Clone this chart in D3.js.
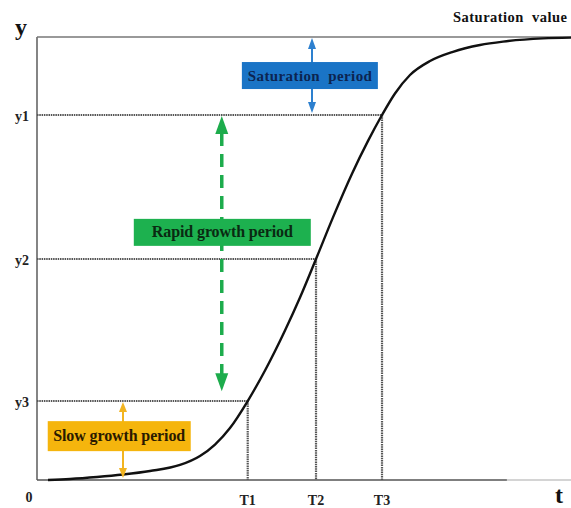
<!DOCTYPE html>
<html><head><meta charset="utf-8">
<script src="https://cdn.jsdelivr.net/npm/d3@7"></script>
<style>html,body{margin:0;padding:0;background:#fff;}svg{display:block;}</style>
</head><body>
<svg id="chart" width="571" height="508"></svg>
<script>
// ---- data ----
const curveT = [2.06, 6.18, 11.24, 16.10, 21.16, 26.78, 30.52, 33.33, 36.14, 39.46, 42.70, 46.44, 49.25, 52.25, 55.43, 58.99, 61.99, 64.61, 67.04, 69.85, 73.60, 77.90, 82.96, 87.27, 94.76, 100];
const curveY = [0, 0.23, 0.68, 1.24, 2.03, 3.39, 5.42, 8.01, 11.74, 17.83, 24.72, 33.75, 41.20, 49.89, 59.28, 69.14, 76.55, 82.39, 87.25, 91.42, 94.58, 96.66, 98.19, 98.96, 99.68, 99.86];
const timeLabels = ["T1", "T2", "T3"];
const timeValues = [39.46, 52.25, 64.61];
const levelLabels = ["y3", "y2", "y1"];
const levelValues = [17.83, 49.89, 82.39];
const saturationValue = 100;
const periodLabels = ["Slow growth period", "Rapid growth period", "Saturation  period"];

const svg = d3.select("#chart");
const x = d3.scaleLinear().domain([0, 100]).range([37, 571]);
const y = d3.scaleLinear().domain([0, 100]).range([480, 37]);
const serif = "'Liberation Serif','Times New Roman',serif";

// frame
svg.append("line").attr("x1", x(0)).attr("x2", x(0)).attr("y1", y(0)).attr("y2", y(100))
  .attr("stroke", "#666").attr("stroke-width", 1.6);
svg.append("line").attr("x1", x(0)).attr("x2", x(100)).attr("y1", y(saturationValue)).attr("y2", y(saturationValue))
  .attr("stroke", "#777").attr("stroke-width", 1.6);
svg.append("line").attr("x1", x(0)).attr("x2", x(88)).attr("y1", y(0)).attr("y2", y(0))
  .attr("stroke", "#555").attr("stroke-width", 1.6);
svg.append("line").attr("x1", x(88)).attr("x2", x(100)).attr("y1", y(0)).attr("y2", y(0))
  .attr("stroke", "#aaa").attr("stroke-width", 1.2);

// dotted reference lines
const pairs = timeValues.map((t, i) => ({t, v: levelValues[i]}));
pairs.forEach(p => {
  svg.append("line").attr("x1", x(0)).attr("x2", x(p.t)).attr("y1", y(p.v)).attr("y2", y(p.v))
    .attr("stroke", "#555").attr("stroke-width", 2.2).attr("stroke-dasharray", "1.5,0.8");
  svg.append("line").attr("x1", x(p.t)).attr("x2", x(p.t)).attr("y1", y(p.v)).attr("y2", y(0))
    .attr("stroke", "#555").attr("stroke-width", 2.2).attr("stroke-dasharray", "1.5,0.8");
});

// curve
const pts = curveT.map((t, i) => [t, curveY[i]]);
svg.append("path").datum(pts)
  .attr("d", d3.line().x(d => x(d[0])).y(d => y(d[1])).curve(d3.curveMonotoneX))
  .attr("fill", "none").attr("stroke", "#111").attr("stroke-width", 2.4);

// axis labels
svg.selectAll(".tl").data(timeLabels).enter().append("text")
  .attr("x", (d, i) => x(timeValues[i])).attr("y", 505).attr("text-anchor", "middle")
  .attr("font-family", serif).attr("font-weight", "bold").attr("font-size", 14).attr("fill", "#222").text(d => d);
svg.selectAll(".yl").data(levelLabels).enter().append("text")
  .attr("x", 29).attr("y", (d, i) => y(levelValues[i]) + 6).attr("text-anchor", "end")
  .attr("font-family", serif).attr("font-weight", "bold").attr("font-size", 14).attr("fill", "#222").text(d => d);
svg.append("text").attr("x", 29).attr("y", 502).attr("text-anchor", "middle")
  .attr("font-family", serif).attr("font-weight", "bold").attr("font-size", 14).attr("fill", "#222").text("0");
svg.append("text").attr("x", 21).attr("y", 35).attr("text-anchor", "middle")
  .attr("font-family", serif).attr("font-weight", "bold").attr("font-size", 24).attr("fill", "#111").text("y");
svg.append("text").attr("x", 559).attr("y", 503).attr("text-anchor", "middle")
  .attr("font-family", serif).attr("font-weight", "bold").attr("font-size", 24).attr("fill", "#111").text("t");
svg.append("text").attr("x", 453).attr("y", 22)
  .attr("font-family", serif).attr("font-weight", "bold").attr("font-size", 14.5).attr("fill", "#111")
  .attr("textLength", 114).attr("lengthAdjust", "spacing")
  .attr("xml:space", "preserve").text("Saturation  value");

// arrowheads
function head(g, cx, tipY, dir, w, h, color) {
  g.append("path").attr("d", `M${cx},${tipY} L${cx - w / 2},${tipY + dir * h} L${cx + w / 2},${tipY + dir * h} Z`).attr("fill", color);
}

// period annotations (in data units)
const periods = [
  {label: periodLabels[0], ax: 16.1, top: levelValues[0], bot: 0, cx: 15.4, cy: 9.9, w: 143, h: 30, tw: 132,
   fill: "#f5b50d", text: "#2a1a00", arrow: "#f2b420", lw: 2, hw: 8, hh: 10, dash: null, fs: 16},
  {label: periodLabels[1], ax: 34.6, top: levelValues[2], bot: 19.6, cx: 34.7, cy: 55.9, w: 177, h: 27, tw: 141,
   fill: "#1db14f", text: "#0a2a12", arrow: "#1dac4c", lw: 3.5, hw: 13, hh: 18, dash: "13,8", fs: 16},
  {label: periodLabels[2], ax: 51.5, top: saturationValue, bot: levelValues[2], cx: 51.1, cy: 91.3, w: 136, h: 27, tw: 124,
   fill: "#1a74c6", text: "#0c2450", arrow: "#2d80cf", lw: 2, hw: 8, hh: 11, dash: null, fs: 15}
];
periods.forEach(p => {
  const g = svg.append("g");
  const ax = x(p.ax), yt = y(p.top) + 1, yb = y(p.bot) - 2;
  g.append("line").attr("x1", ax).attr("x2", ax).attr("y1", yt + p.hh - 1).attr("y2", yb - p.hh + 1)
    .attr("stroke", p.arrow).attr("stroke-width", p.lw).attr("stroke-dasharray", p.dash);
  head(g, ax, yt, 1, p.hw, p.hh, p.arrow);
  head(g, ax, yb, -1, p.hw, p.hh, p.arrow);
  g.append("rect").attr("x", x(p.cx) - p.w / 2).attr("y", y(p.cy) - p.h / 2).attr("width", p.w).attr("height", p.h)
    .attr("fill", p.fill);
  g.append("text").attr("x", x(p.cx) - p.tw / 2).attr("y", y(p.cy) + 5)
    .attr("font-family", serif).attr("font-weight", "bold").attr("font-size", p.fs).attr("fill", p.text)
    .attr("textLength", p.tw).attr("lengthAdjust", "spacing")
    .attr("xml:space", "preserve").text(p.label);
});
</script>
</body></html>
